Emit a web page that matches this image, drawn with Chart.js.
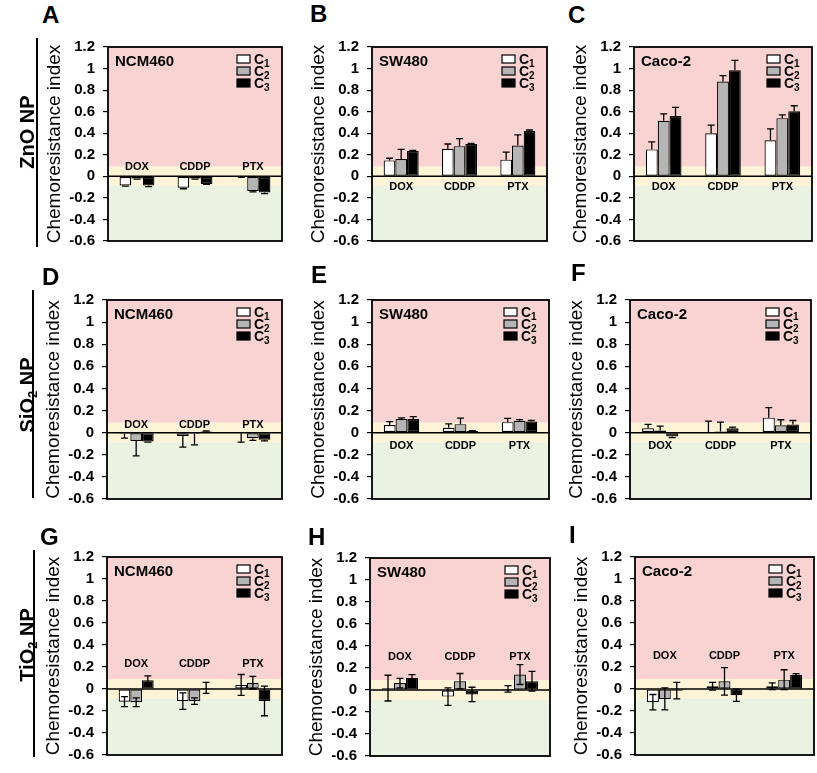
<!DOCTYPE html>
<html>
<head>
<meta charset="utf-8">
<script src="https://cdn.jsdelivr.net/npm/chart.js@4.4.1/dist/chart.umd.min.js"></script>
<style>
  body { margin: 0; background: #fff; width: 817px; height: 773px; position: relative; overflow: hidden; font-family: "Liberation Sans", Arial, sans-serif; }
  canvas { position: absolute; }
  .letter { position: absolute; font-weight: bold; font-size: 24px; line-height: 1; }
  .rowlab { position: absolute; font-weight: bold; font-size: 20px; line-height: 1; white-space: nowrap; transform: translate(-50%, -50%) rotate(-90deg); }
  .rowlab sub { font-size: 13px; vertical-align: -3px; line-height: 0; }
  .vline { position: absolute; width: 1.5px; background: #000; }
</style>
</head>
<body>
<script>
// categories, legend and axis ticks
const drugs = ['DOX', 'CDDP', 'PTX'];
const concs = ['1', '2', '3'];   // C1, C2, C3 subscripts
const yTicks = [1.2, 1, 0.8, 0.6, 0.4, 0.2, 0, -0.2, -0.4, -0.6];

// each array: [C1, C2, C3], each row over DOX, CDDP, PTX
// ZnO NP
const znoNcm460 = [[-0.085, -0.105, -0.005], [-0.02, -0.02, -0.135], [-0.085, -0.07, -0.15]];
const znoNcm460Err = [[0.005, 0.01, 0.005], [0.005, 0.005, 0.01], [0.01, 0.005, 0.01]];
const znoSw480 = [[0.148, 0.255, 0.155], [0.16, 0.28, 0.285], [0.235, 0.3, 0.42]];
const znoSw480Err = [[0.02, 0.045, 0.07], [0.09, 0.07, 0.1], [0.005, 0.005, 0.01]];
const znoCaco2 = [[0.25, 0.4, 0.335], [0.515, 0.88, 0.54], [0.56, 0.985, 0.605]];
const znoCaco2Err = [[0.07, 0.075, 0.105], [0.065, 0.055, 0.03], [0.08, 0.09, 0.05]];
// SiO2 NP
const sioNcm460 = [[-0.01, -0.03, -0.005], [-0.075, -0.01, -0.05], [-0.08, 0.01, -0.065]];
const sioNcm460Err = [[0.04, 0.1, 0.08], [0.135, 0.1, 0.02], [0.005, 0.005, 0.01]];
const sioSw480 = [[0.07, 0.045, 0.095], [0.123, 0.077, 0.108], [0.123, 0.014, 0.1]];
const sioSw480Err = [[0.03, 0.035, 0.035], [0.01, 0.055, 0.01], [0.023, 0.005, 0.01]];
const sioCaco2 = [[0.04, 0.005, 0.136], [0.02, 0.01, 0.067], [-0.035, 0.04, 0.075]];
const sioCaco2Err = [[0.035, 0.1, 0.09], [0.04, 0.085, 0.05], [0.01, 0.01, 0.035]];
// TiO2 NP
const tioNcm460 = [[-0.115, -0.11, 0.037], [-0.12, -0.11, 0.057], [0.08, 0.01, -0.108]];
const tioNcm460Err = [[0.045, 0.075, 0.095], [0.04, 0.03, 0.057], [0.04, 0.05, 0.135]];
const tioSw480 = [[0.017, -0.06, 0.01], [0.063, 0.08, 0.14], [0.11, -0.04, 0.08]];
const tioSw480Err = [[0.117, 0.08, 0.03], [0.043, 0.07, 0.09], [0.03, 0.065, 0.09]];
const tioCaco2 = [[-0.12, 0.025, 0.025], [-0.09, 0.07, 0.085], [-0.015, -0.057, 0.13]];
const tioCaco2Err = [[0.07, 0.035, 0.03], [0.1, 0.125, 0.09], [0.075, 0.056, 0.01]];

const FONT = '"Liberation Sans", Arial, sans-serif';
const barColors = ['#ffffff', '#b5b5b5', '#000000'];
const PINK = 'rgb(249, 210, 210)';
const YELLOW = 'rgb(253, 243, 215)';
const GREEN = 'rgb(234, 243, 226)';

// plot boxes are [left, top, right, bottom] of the plotting area in page pixels
const panels = [
  { letter: 'A', at: [42, 3], cell: 'NCM460', vals: znoNcm460, errs: znoNcm460Err, box: [108, 40, 282, 248], labelAt: 0.087, mode: 'out' },
  { letter: 'B', at: [310, 2], cell: 'SW480', vals: znoSw480, errs: znoSw480Err, box: [372, 40, 547, 248], labelAt: -0.1, mode: 'out' },
  { letter: 'C', at: [568, 3], cell: 'Caco-2', vals: znoCaco2, errs: znoCaco2Err, box: [634, 40, 812, 248], labelAt: -0.1, mode: 'out' },
  { letter: 'D', at: [42, 265], cell: 'NCM460', vals: sioNcm460, errs: sioNcm460Err, box: [107, 293, 282, 506], labelAt: 0.068, mode: 'out' },
  { letter: 'E', at: [311, 263], cell: 'SW480', vals: sioSw480, errs: sioSw480Err, box: [372, 293, 549, 506], labelAt: -0.12, mode: 'out' },
  { letter: 'F', at: [571, 261], cell: 'Caco-2', vals: sioCaco2, errs: sioCaco2Err, box: [630, 293, 811, 506], labelAt: -0.117, mode: 'out' },
  { letter: 'G', at: [40, 525], cell: 'NCM460', vals: tioNcm460, errs: tioNcm460Err, box: [107, 550, 282, 762], labelAt: 0.225, mode: 'both' },
  { letter: 'H', at: [308, 525], cell: 'SW480', vals: tioSw480, errs: tioSw480Err, box: [370, 551, 550, 763], labelAt: 0.3, mode: 'both' },
  { letter: 'I', at: [569, 523], cell: 'Caco-2', vals: tioCaco2, errs: tioCaco2Err, box: [635, 550, 814, 762], labelAt: 0.3, mode: 'both' }
];

const rowLabels = [
  { html: 'ZnO NP', x: 27, y: 132, line: [36, 38, 247] },
  { html: 'SiO<sub>2</sub> NP', x: 27, y: 395, line: [32, 290, 498] },
  { html: 'TiO<sub>2</sub> NP', x: 27, y: 645, line: [33, 550, 757] }
];

const AXIS_W = 80, PAD_T = 10, PAD_B = 10, PAD_R = 4;

function makeDeco(p) {
  return {
    id: 'deco' + p.letter,
    beforeDatasetsDraw(chart) {
      const { ctx, chartArea: a, scales: { y } } = chart;
      const bands = [[1.2, 0.09, PINK], [0.09, -0.09, YELLOW], [-0.09, -0.6, GREEN]];
      ctx.save();
      bands.forEach(([hi, lo, col]) => {
        const y1 = y.getPixelForValue(hi), y2 = y.getPixelForValue(lo);
        ctx.fillStyle = col;
        ctx.fillRect(a.left, y1, a.right - a.left, y2 - y1);
      });
      ctx.restore();
    },
    afterDatasetsDraw(chart) {
      const { ctx, chartArea: a, scales: { y } } = chart;
      ctx.save();
      ctx.strokeStyle = '#000';
      ctx.lineWidth = 1.3;
      chart.data.datasets.forEach((ds, di) => {
        chart.getDatasetMeta(di).data.forEach((bar, i) => {
          const v = ds.data[i], e = p.errs[di][i];
          let lo, hi;
          if (p.mode === 'both') { lo = v - e; hi = v + e; }
          else if (v >= 0) { lo = v; hi = v + e; }
          else { lo = v - e; hi = v; }
          const yLo = y.getPixelForValue(lo), yHi = y.getPixelForValue(hi);
          ctx.beginPath();
          ctx.moveTo(bar.x, yLo);
          ctx.lineTo(bar.x, yHi);
          const caps = p.mode === 'both' ? [yLo, yHi] : [v >= 0 ? yHi : yLo];
          caps.forEach(cy => { ctx.moveTo(bar.x - 3.5, cy); ctx.lineTo(bar.x + 3.5, cy); });
          ctx.stroke();
        });
      });
      // zero line and frame
      const y0 = y.getPixelForValue(0);
      ctx.lineWidth = 1.5;
      ctx.beginPath();
      ctx.moveTo(a.left, y0);
      ctx.lineTo(a.right, y0);
      ctx.stroke();
      ctx.lineWidth = 1.8;
      ctx.strokeRect(a.left, a.top, a.right - a.left, a.bottom - a.top);
      ctx.restore();
    },
    afterDraw(chart) {
      const { ctx, chartArea: a, scales: { x, y } } = chart;
      ctx.save();
      ctx.fillStyle = '#000';
      // cell line name
      ctx.font = 'bold 15px ' + FONT;
      ctx.textAlign = 'left';
      ctx.textBaseline = 'alphabetic';
      ctx.fillText(p.cell, a.left + 7, a.top + 19);
      // drug names inside the plot
      ctx.font = 'bold 11px ' + FONT;
      ctx.textAlign = 'center';
      ctx.textBaseline = 'middle';
      drugs.forEach((d, i) => ctx.fillText(d, x.getPixelForValue(i), y.getPixelForValue(p.labelAt)));
      // legend
      const lx = a.right - 45;
      concs.forEach((c, i) => {
        const ty = a.top + 8 + i * 12;
        ctx.fillStyle = barColors[i];
        ctx.fillRect(lx, ty, 13, 8);
        ctx.strokeStyle = '#000';
        ctx.lineWidth = 1.2;
        ctx.strokeRect(lx, ty, 13, 8);
        ctx.fillStyle = '#000';
        ctx.textAlign = 'left';
        ctx.textBaseline = 'alphabetic';
        ctx.font = 'bold 14px ' + FONT;
        ctx.fillText('C', lx + 17, ty + 9);
        const w = ctx.measureText('C').width;
        ctx.font = 'bold 10px ' + FONT;
        ctx.fillText(c, lx + 17 + w, ty + 12);
      });
      ctx.restore();
    }
  };
}

panels.forEach(p => {
  const [l, t, r, b] = p.box;
  const cv = document.createElement('canvas');
  cv.width = (r - l) + AXIS_W + PAD_R;
  cv.height = (b - t) + PAD_T + PAD_B;
  cv.style.left = (l - AXIS_W) + 'px';
  cv.style.top = (t - PAD_T) + 'px';
  cv.style.width = cv.width + 'px';
  cv.style.height = cv.height + 'px';
  document.body.appendChild(cv);

  const letter = document.createElement('div');
  letter.className = 'letter';
  letter.textContent = p.letter;
  letter.style.left = p.at[0] + 'px';
  letter.style.top = p.at[1] + 'px';
  document.body.appendChild(letter);

  new Chart(cv.getContext('2d'), {
    type: 'bar',
    data: {
      labels: drugs,
      datasets: concs.map((c, i) => ({
        label: 'C' + c,
        data: p.vals[i],
        backgroundColor: barColors[i],
        borderColor: '#000',
        borderWidth: 1.2,
        borderSkipped: false,
        barPercentage: 1.0,
        categoryPercentage: 0.6
      }))
    },
    options: {
      responsive: false,
      animation: false,
      layout: { padding: { left: 0, top: PAD_T, right: PAD_R, bottom: PAD_B } },
      plugins: { legend: { display: false }, tooltip: { enabled: false } },
      scales: {
        x: { display: false },
        y: {
          min: -0.6,
          max: 1.2,
          afterBuildTicks: s => { s.ticks = yTicks.map(v => ({ value: v })); },
          afterFit: s => { s.width = AXIS_W; },
          grid: { drawOnChartArea: false, drawTicks: true, tickLength: 5, color: '#000', lineWidth: 1.2 },
          border: { display: false },
          ticks: {
            color: '#000',
            padding: 8,
            autoSkip: false,
            font: { family: FONT, size: 15, weight: 'bold' },
            callback: v => String(Math.round(v * 10) / 10)
          },
          title: {
            display: true,
            text: 'Chemoresistance index',
            color: '#000',
            font: { family: FONT, size: 19 },
            padding: { top: 15.5, bottom: 0 }
          }
        }
      }
    },
    plugins: [makeDeco(p)]
  });
});

rowLabels.forEach(rl => {
  const d = document.createElement('div');
  d.className = 'rowlab';
  d.innerHTML = rl.html;
  d.style.left = rl.x + 'px';
  d.style.top = rl.y + 'px';
  document.body.appendChild(d);
  const ln = document.createElement('div');
  ln.className = 'vline';
  ln.style.left = rl.line[0] + 'px';
  ln.style.top = rl.line[1] + 'px';
  ln.style.height = (rl.line[2] - rl.line[1]) + 'px';
  document.body.appendChild(ln);
});
</script>
</body>
</html>
